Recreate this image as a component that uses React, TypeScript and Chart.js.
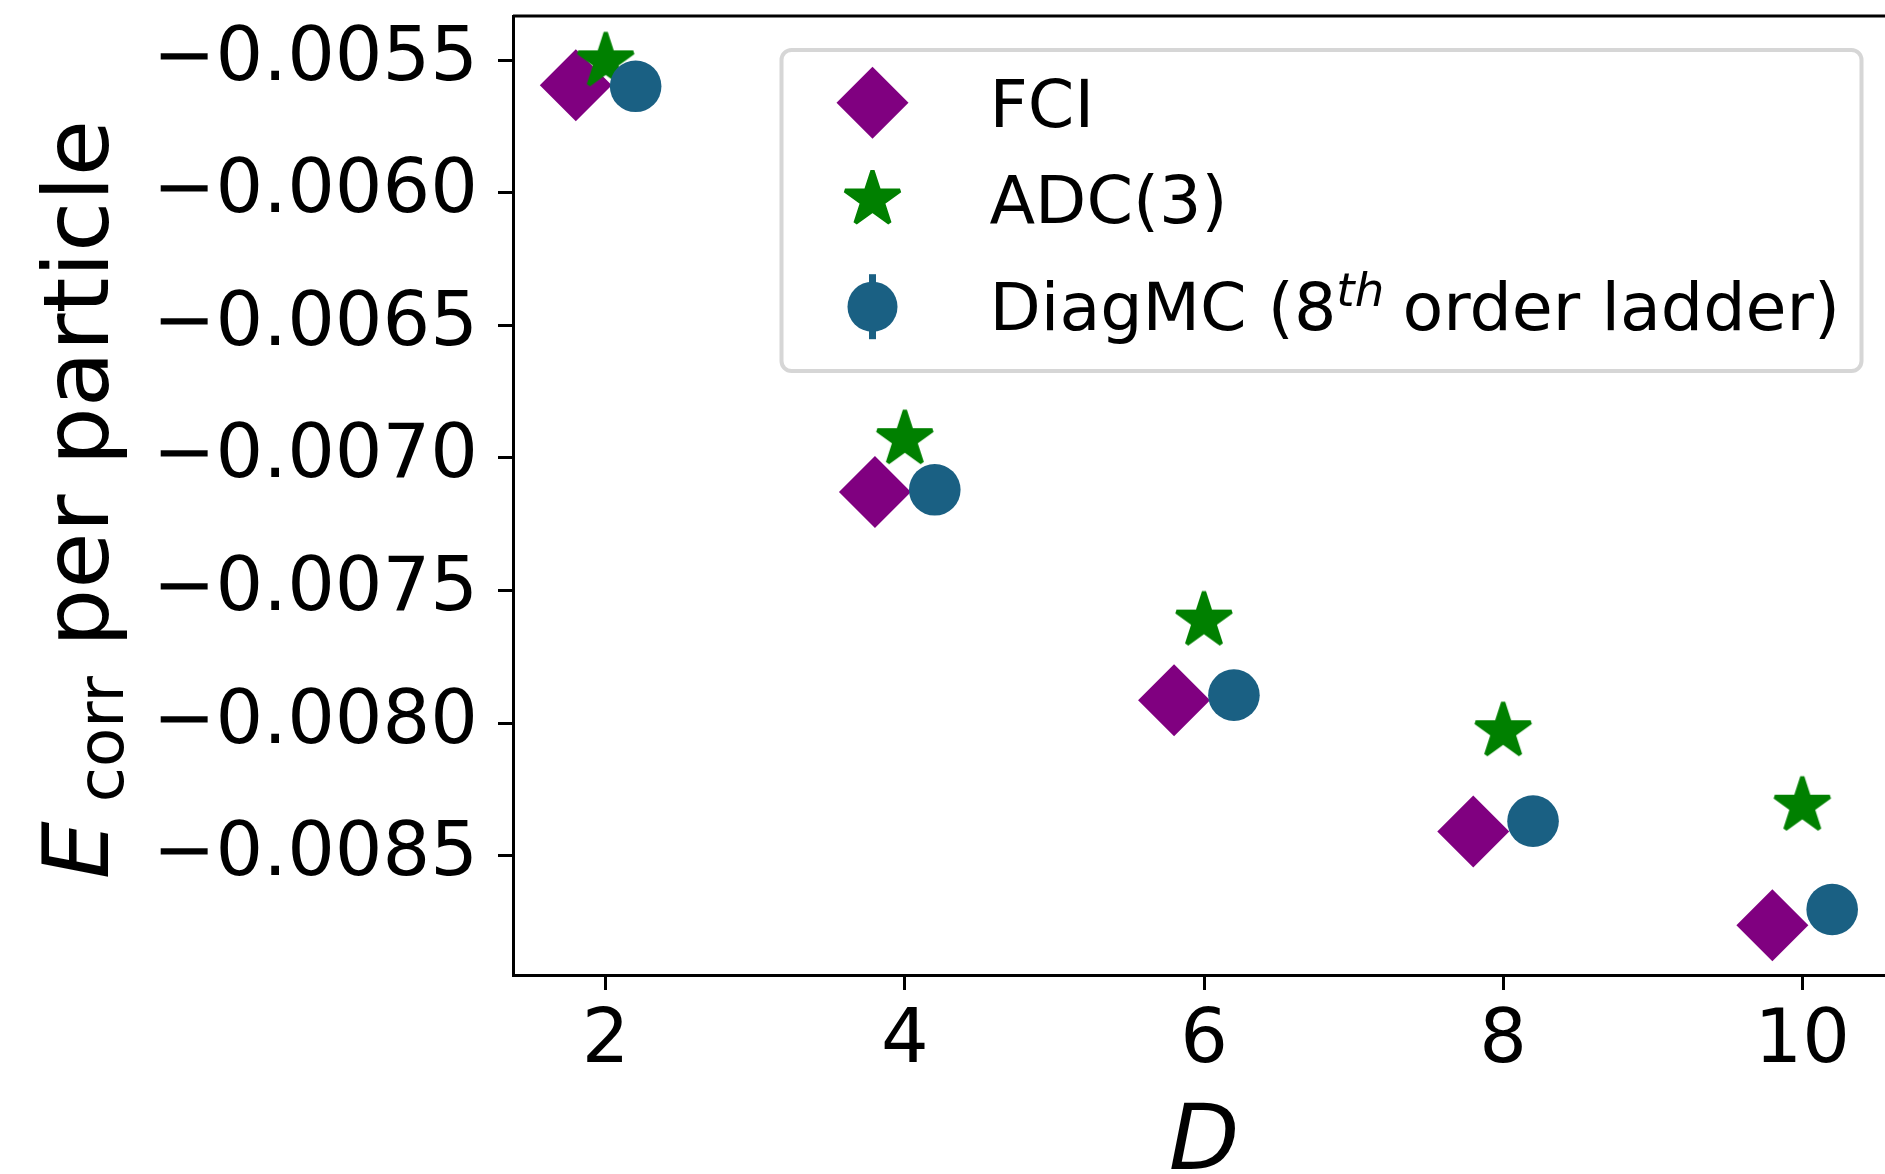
import React, { useEffect, useRef } from 'react';
import { Chart, registerables } from 'chart.js';

Chart.register(...registerables);

// Correlation energy per particle versus dimension D
const dimensions = [2, 4, 6, 8, 10];
const fciEnergy = [-0.005595, -0.007128, -0.007913, -0.008408, -0.008761];
const adc3Energy = [-0.005505, -0.006929, -0.007613, -0.00803, -0.008311];
const diagmcEnergy = [-0.005599, -0.00712, -0.007894, -0.008369, -0.008702];

const xTickValues = [2, 4, 6, 8, 10];
const yTickValues = [-0.0085, -0.008, -0.0075, -0.007, -0.0065, -0.006, -0.0055];

const seriesLabels = ['FCI', 'ADC(3)', 'DiagMC (8'];
const superscriptText = 'th';
const labelTail = ' order ladder)';
const xTitle = 'D';
const yTitleMain = 'E';
const yTitleSub = 'corr';
const yTitleRest = ' per particle';

// horizontal shift so the three methods sit side by side at each D
const X_SHIFT = 0.2;

const FONT = '"DejaVu Sans", "Liberation Sans", sans-serif';
const COLORS = { fci: '#800080', adc: '#008000', diagmc: '#1a6083' };

const CANVAS_W = 1920;
const CANVAS_H = 1174;
const VIEW_W = 1885;

const TICK_SIZE = 75;
const TITLE_SIZE = 91.7;
const LEGEND_SIZE = 66.7;

const DIAMOND_R = 36;
const STAR_R = 28.9;
const STAR_EDGE = 4.2;
const CIRCLE_R = 25.8;

function starPath(ctx: CanvasRenderingContext2D, cx: number, cy: number, r: number) {
  ctx.beginPath();
  for (let i = 0; i < 10; i++) {
    const a = -Math.PI / 2 + (i * Math.PI) / 5;
    const rr = i % 2 === 0 ? r : r * 0.381966;
    const px = cx + rr * Math.cos(a);
    const py = cy + rr * Math.sin(a);
    if (i === 0) ctx.moveTo(px, py);
    else ctx.lineTo(px, py);
  }
  ctx.closePath();
}

function paintStar(ctx: CanvasRenderingContext2D, cx: number, cy: number, color: string) {
  starPath(ctx, cx, cy, STAR_R);
  ctx.fillStyle = color;
  ctx.fill();
  ctx.strokeStyle = color;
  ctx.lineWidth = STAR_EDGE;
  ctx.lineJoin = 'bevel';
  ctx.stroke();
}

function makeStar(color: string) {
  const size = 72;
  const c = document.createElement('canvas');
  c.width = size;
  c.height = size;
  const ctx = c.getContext('2d')!;
  paintStar(ctx, size / 2, size / 2, color);
  return c;
}

function diamondPath(ctx: CanvasRenderingContext2D, cx: number, cy: number, r: number) {
  ctx.beginPath();
  ctx.moveTo(cx - r, cy);
  ctx.lineTo(cx, cy - r);
  ctx.lineTo(cx + r, cy);
  ctx.lineTo(cx, cy + r);
  ctx.closePath();
}

// top and right spines
const framePlugin = {
  id: 'frame',
  afterDraw(chart: any) {
    const { ctx, chartArea } = chart;
    ctx.save();
    ctx.strokeStyle = '#000';
    ctx.lineWidth = 3;
    ctx.beginPath();
    ctx.moveTo(chartArea.left, chartArea.top);
    ctx.lineTo(chartArea.right, chartArea.top);
    ctx.lineTo(chartArea.right, chartArea.bottom);
    ctx.stroke();
    ctx.restore();
  },
};

// axis titles with italic symbol and subscript
const titlesPlugin = {
  id: 'axisTitles',
  afterDraw(chart: any) {
    const { ctx, chartArea } = chart;
    ctx.save();
    ctx.fillStyle = '#000';
    ctx.textBaseline = 'alphabetic';

    // x title
    ctx.font = `italic ${TITLE_SIZE}px ${FONT}`;
    ctx.textAlign = 'center';
    ctx.fillText(xTitle, (chartArea.left + chartArea.right) / 2, 1169);

    // y title, rotated
    ctx.textAlign = 'left';
    const mainFont = `${TITLE_SIZE}px ${FONT}`;
    const italicFont = `italic ${TITLE_SIZE}px ${FONT}`;
    const subFont = `${TITLE_SIZE * 0.7}px ${FONT}`;
    const subGap = 19;
    ctx.font = italicFont;
    const wE = ctx.measureText(yTitleMain).width;
    ctx.font = subFont;
    const wSub = ctx.measureText(yTitleSub).width;
    ctx.font = mainFont;
    const wRest = ctx.measureText(yTitleRest).width;
    const total = wE + subGap + wSub + wRest;
    const cy = (chartArea.top + chartArea.bottom) / 2 + 4;
    ctx.translate(108.3, cy);
    ctx.rotate(-Math.PI / 2);
    let x = -total / 2;
    ctx.font = italicFont;
    ctx.fillText(yTitleMain, x, 0);
    x += wE + subGap;
    ctx.font = subFont;
    ctx.fillText(yTitleSub, x, 14.5);
    x += wSub;
    ctx.font = mainFont;
    ctx.fillText(yTitleRest, x, 0);
    ctx.restore();
  },
};

const legendPlugin = {
  id: 'boxLegend',
  afterDraw(chart: any) {
    const { ctx, chartArea } = chart;
    const right = chartArea.right - 33.5;
    const width = 1080;
    const left = right - width;
    const top = chartArea.top + 34;
    const height = 321;
    const rad = 10;
    ctx.save();
    ctx.beginPath();
    ctx.moveTo(left + rad, top);
    ctx.arcTo(right, top, right, top + height, rad);
    ctx.arcTo(right, top + height, left, top + height, rad);
    ctx.arcTo(left, top + height, left, top, rad);
    ctx.arcTo(left, top, right, top, rad);
    ctx.closePath();
    ctx.fillStyle = 'rgba(255,255,255,0.8)';
    ctx.fill();
    ctx.strokeStyle = '#d6d6d6';
    ctx.lineWidth = 4;
    ctx.stroke();

    const mx = left + 91;
    const tx = left + 208;
    const markerY = [top + 52.7, top + 149.5, top + 256.7];
    const baseY = [top + 76.7, top + 173.3, top + 280];

    // FCI diamond
    diamondPath(ctx, mx, markerY[0], DIAMOND_R);
    ctx.fillStyle = COLORS.fci;
    ctx.fill();
    // ADC(3) star
    paintStar(ctx, mx, markerY[1], COLORS.adc);
    // DiagMC circle with error bar
    ctx.strokeStyle = COLORS.diagmc;
    ctx.lineWidth = 7;
    ctx.beginPath();
    ctx.moveTo(mx, markerY[2] - 32.5);
    ctx.lineTo(mx, markerY[2] + 32.5);
    ctx.stroke();
    ctx.beginPath();
    ctx.arc(mx, markerY[2], 25, 0, Math.PI * 2);
    ctx.fillStyle = COLORS.diagmc;
    ctx.fill();

    ctx.fillStyle = '#000';
    ctx.textAlign = 'left';
    ctx.textBaseline = 'alphabetic';
    const f = `${LEGEND_SIZE}px ${FONT}`;
    ctx.font = f;
    ctx.fillText(seriesLabels[0], tx, baseY[0]);
    ctx.fillText(seriesLabels[1], tx, baseY[1]);
    let x = tx;
    ctx.fillText(seriesLabels[2], x, baseY[2]);
    x += ctx.measureText(seriesLabels[2]).width;
    ctx.font = `italic ${LEGEND_SIZE * 0.7}px ${FONT}`;
    ctx.fillText(superscriptText, x, baseY[2] - 24.5);
    x += ctx.measureText(superscriptText).width - 3;
    ctx.font = f;
    ctx.fillText(labelTail, x, baseY[2]);
    ctx.restore();
  },
};

export default function App() {
  const ref = useRef<HTMLCanvasElement>(null);

  useEffect(() => {
    const canvas = ref.current;
    if (!canvas) return;
    const starImg = makeStar(COLORS.adc);

    const tickGrid = {
      display: true,
      drawOnChartArea: false,
      drawTicks: true,
      tickLength: 15,
      lineWidth: 3,
      color: '#000',
    };
    const border = { display: true, color: '#000', width: 3 };

    const chart = new Chart(canvas, {
      type: 'scatter',
      data: {
        datasets: [
          {
            label: 'FCI',
            data: dimensions.map((d, i) => ({ x: d - X_SHIFT, y: fciEnergy[i] })),
            pointStyle: 'rectRot',
            pointRadius: DIAMOND_R,
            backgroundColor: COLORS.fci,
            borderWidth: 0,
            order: 2,
          },
          {
            label: 'ADC(3)',
            data: dimensions.map((d, i) => ({ x: d, y: adc3Energy[i] })),
            pointStyle: starImg as any,
            pointRadius: STAR_R,
            backgroundColor: COLORS.adc,
            borderWidth: 0,
            order: 1,
          },
          {
            label: 'DiagMC',
            data: dimensions.map((d, i) => ({ x: d + X_SHIFT, y: diagmcEnergy[i] })),
            pointStyle: 'circle',
            pointRadius: CIRCLE_R,
            backgroundColor: COLORS.diagmc,
            borderWidth: 0,
            order: 0,
          },
        ],
      },
      options: {
        responsive: false,
        animation: false,
        devicePixelRatio: 1,
        events: [],
        layout: {
          autoPadding: false,
          padding: { left: 0, top: 16, right: CANVAS_W - 1895, bottom: 0 },
        },
        plugins: {
          legend: { display: false },
          tooltip: { enabled: false },
        },
        scales: {
          x: {
            type: 'linear',
            min: 1.38,
            max: 10.62,
            afterBuildTicks: (s: any) => {
              s.ticks = xTickValues.map((v) => ({ value: v }));
            },
            afterFit: (s: any) => {
              s.height = 199;
              s.paddingLeft = 0;
              s.paddingRight = 0;
            },
            grid: tickGrid,
            border,
            ticks: {
              color: '#000',
              font: { family: FONT, size: TICK_SIZE },
              padding: 8,
              maxRotation: 0,
              autoSkip: false,
              callback: (v: any) => String(v),
            },
          },
          y: {
            type: 'linear',
            min: -0.008949,
            max: -0.005334,
            afterBuildTicks: (s: any) => {
              s.ticks = yTickValues.map((v) => ({ value: v }));
            },
            afterFit: (s: any) => {
              s.width = 513;
              s.paddingTop = 0;
              s.paddingBottom = 0;
            },
            grid: tickGrid,
            border,
            ticks: {
              color: '#000',
              font: { family: FONT, size: TICK_SIZE },
              padding: 20,
              autoSkip: false,
              callback: (v: any) => '\u2212' + Math.abs(Number(v)).toFixed(4),
            },
          },
        },
      },
      plugins: [framePlugin, titlesPlugin, legendPlugin],
    } as any);

    return () => chart.destroy();
  }, []);

  return (
    <div
      style={{
        position: 'absolute',
        left: 0,
        top: 0,
        width: VIEW_W,
        height: CANVAS_H,
        overflow: 'hidden',
        background: '#fff',
      }}
    >
      <canvas
        ref={ref}
        width={CANVAS_W}
        height={CANVAS_H}
        style={{ display: 'block', width: CANVAS_W, height: CANVAS_H }}
      />
    </div>
  );
}
